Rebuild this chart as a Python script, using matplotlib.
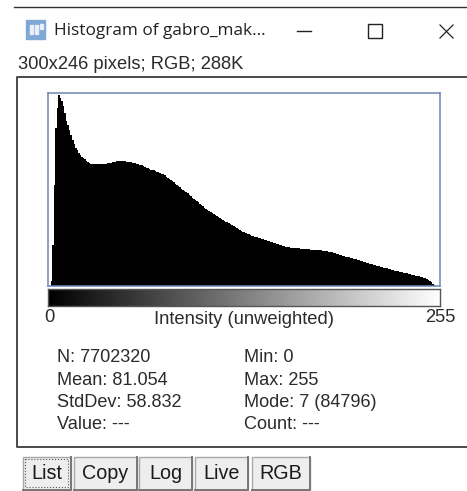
# %%
import numpy as np
import matplotlib
matplotlib.use("Agg")
import matplotlib.pyplot as plt
from matplotlib.patches import Rectangle

# %%
## Define globals
W, H = 467, 491
TEXT = "#2b2b2b"
BOX_BLUE = "#6d86b5"
FONT = "Liberation Sans"

# %%
## Data (counts in thousands per intensity)
counts_k = [
    0, 0, 2, 18, 45, 70, 79, 84.8, 83.5, 82,
    80, 77, 73.5, 71.5, 69.5, 67, 65, 63, 61.5, 60.5,
    59.2, 58.2, 57.5, 57, 56.2, 55.6, 55, 54.6, 54.3, 54.1,
    54.1, 54, 54.1, 54.1, 54, 54.2, 54.1, 54.2, 54.4, 54.5,
    54.6, 54.7, 54.9, 55, 55.1, 55.3, 55.4, 55.5, 55.4, 55.3,
    55.4, 55.2, 55.1, 55, 54.9, 54.8, 54.6, 54.5, 54.3, 54.1,
    53.9, 53.6, 53.2, 52.9, 52.5, 52.2, 52, 51.7, 51.5, 51.3,
    51, 50.8, 50.5, 50.2, 49.9, 49.6, 49.1, 48.6, 48.1, 47.5,
    47.1, 46.5, 46, 45.5, 45, 44.4, 43.9, 43.3, 42.8, 42.2,
    41.7, 41.1, 40.5, 39.9, 39.3, 38.7, 38.2, 37.6, 37.1, 36.5,
    36, 35.4, 34.8, 34.3, 33.8, 33.3, 32.8, 32.3, 31.8, 31.4,
    31, 30.6, 30.2, 29.8, 29.4, 29, 28.6, 28.3, 28, 27.6,
    27.2, 26.7, 26.2, 25.7, 25.2, 24.8, 24.4, 24.1, 23.8, 23.5,
    23.2, 22.9, 22.6, 22.4, 22.2, 21.9, 21.6, 21.4, 21.2, 21,
    20.8, 20.6, 20.4, 20.2, 20, 19.7, 19.4, 19.2, 18.9, 18.7,
    18.5, 18.3, 18.1, 17.9, 17.7, 17.5, 17.3, 17.2, 17.1, 17,
    16.9, 16.8, 16.8, 16.7, 16.7, 16.6, 16.6, 16.5, 16.4, 16.4,
    16.3, 16.2, 16.1, 16.1, 16, 16, 15.9, 15.9, 15.8, 15.7,
    15.7, 15.6, 15.5, 15.3, 15.1, 14.9, 14.7, 14.5, 14.3, 14.1,
    13.9, 13.7, 13.5, 13.3, 13.1, 12.9, 12.7, 12.6, 12.4, 12.2,
    12, 11.8, 11.6, 11.4, 11.2, 11, 10.8, 10.6, 10.3, 10.1,
    9.9, 9.7, 9.5, 9.3, 9.1, 8.9, 8.7, 8.5, 8.3, 8.1,
    7.9, 7.8, 7.6, 7.4, 7.2, 7, 6.8, 6.6, 6.5, 6.3,
    6.1, 6, 5.8, 5.7, 5.6, 5.4, 5.2, 5, 4.9, 4.8,
    4.6, 4.5, 4.3, 4.1, 3.9, 3.7, 3.4, 3.1, 2.7, 2.2,
    1.6, 1, 0.5, 0.2, 0, 0,
]
stats_left = ["N: 7702320", "Mean: 81.054", "StdDev: 58.832", "Value: ---"]
stats_right = ["Min: 0", "Max: 255", "Mode: 7 (84796)", "Count: ---"]
buttons = ["List", "Copy", "Log", "Live", "RGB"]

# %%
fig = plt.figure(figsize=(W / 100, H / 100), dpi=100, facecolor="white")


def px_axes(x0, y0, x1, y1, **kw):
    return fig.add_axes([x0 / W, 1 - y1 / H, (x1 - x0) / W, (y1 - y0) / H], **kw)


## Window chrome, drawn in pixel coordinates
bg = px_axes(0, 0, W, H)
bg.set_xlim(0, W)
bg.set_ylim(H, 0)
bg.axis("off")
bg.plot([14, W], [7, 7], color="#333333", lw=1)
bg.plot([W, 17, 17, W], [77, 77, 447, 447], color="#4a4a4a", lw=1.4)

# title bar
bg.add_patch(Rectangle((26, 20), 19, 19, color="#7fa8d6"))
bg.add_patch(Rectangle((30, 25), 3, 9, color="#e8eff7"))
bg.add_patch(Rectangle((35, 25), 3, 9, color="#e8eff7"))
bg.add_patch(Rectangle((40, 24), 3, 5, color="#e8eff7"))
bg.text(53.5, 31, "Histogram of gabro_mak...", family="Open Sans", fontsize=12.45,
        color="#222222", va="center")
bg.plot([297, 311], [31, 31], color="#222222", lw=1)
bg.add_patch(Rectangle((368, 24), 14, 14, fc="none", ec="#222222", lw=1))
bg.plot([440, 453], [25, 38], color="#222222", lw=0.9)
bg.plot([440, 453], [38, 25], color="#222222", lw=0.9)
bg.text(18, 64, "300x246 pixels; RGB; 288K", family=FONT, fontsize=13.2,
        color=TEXT, va="center")

## Histogram
ax = px_axes(47.5, 93.5, 440, 286)
ax.stairs(np.array(counts_k) * 1000, np.arange(257), fill=True, color="black", lw=0)
ax.set_xlim(0, 256)
ax.set_ylim(0, 85500)
ax.set_xticks([])
ax.set_yticks([])
for spine in ax.spines.values():
    spine.set_color(BOX_BLUE)
    spine.set_linewidth(1.1)

## Grey ramp
ramp = px_axes(47.5, 289, 440, 306)
ramp.imshow(np.arange(256).reshape(1, -1), cmap="gray", aspect="auto", vmin=0, vmax=255)
ramp.set_xticks([])
ramp.set_yticks([])
for spine in ramp.spines.values():
    spine.set_color("#555555")
    spine.set_linewidth(1)

bg.text(49, 318, "0", family=FONT, fontsize=13.2, color=TEXT, ha="center", va="center")
bg.text(244.5, 319, "Intensity (unweighted)", family=FONT, fontsize=13.2, color=TEXT,
        ha="center", va="center")
bg.text(440, 318, "255", family=FONT, fontsize=13.2, color=TEXT, ha="center", va="center")

## Statistics
for i, (left, right) in enumerate(zip(stats_left, stats_right)):
    y = 358 + i * 22.3
    bg.text(57, y, left, family=FONT, fontsize=13.1, color=TEXT, va="center")
    bg.text(244, y, right, family=FONT, fontsize=13.1, color=TEXT, va="center")

## Buttons
edges = [(23, 71), (74, 137), (139, 192), (195, 248), (252, 310)]
for (x0, x1), label in zip(edges, buttons):
    bg.add_patch(Rectangle((x0, 457), x1 - x0, 33, fc="#eeeeee", ec="#a8a8a8", lw=1))
    bg.plot([x0, x1, x1], [490, 490, 457], color="#777777", lw=1.4)
    bg.text((x0 + x1) / 2, 473.5, label, family=FONT, fontsize=14.2, color="#1a1a1a",
            ha="center", va="center")
bg.add_patch(Rectangle((25, 459), 43, 28, fc="none", ec="#555555", lw=0.8, ls=":"))

fig.savefig("out.png", dpi=100)
